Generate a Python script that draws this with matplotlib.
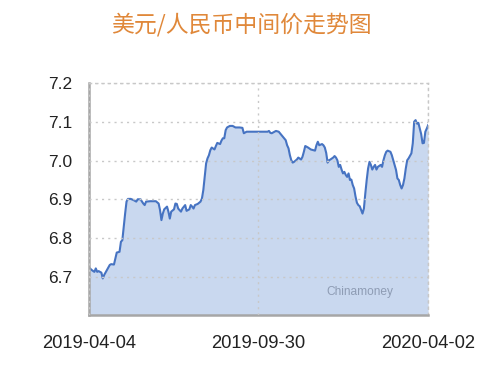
import numpy as np
import matplotlib
matplotlib.use("Agg")
import matplotlib.pyplot as plt

plt.rcParams['font.family'] = ['Liberation Sans', 'DejaVu Sans']

title = "美元/人民币中间价走势图"
tick_dates = ["2019-04-04", "2019-09-30", "2020-04-02"]
yticks = [6.7, 6.8, 6.9, 7.0, 7.1, 7.2]

# trading-day index and USD/CNY central parity
day = [0, 2, 4, 5, 6, 7, 9, 10, 11, 13, 15, 16, 18, 19, 20, 22, 23, 24, 25, 26,
       27, 28, 30, 32, 34, 35, 37, 39, 40, 41, 44, 46, 48, 50, 51, 52, 53, 54,
       56, 57, 58, 59, 61, 62, 63, 64, 66, 67, 69, 70, 72, 73, 74, 75, 76, 78,
       80, 81, 82, 83, 84, 85, 86, 87, 88, 90, 91, 92, 94, 95, 96, 97, 98, 99,
       101, 103, 105, 108, 110, 111, 113, 117, 122, 128, 129, 130, 131, 133,
       134, 136, 139, 141, 142, 143, 144, 145, 146, 147, 149, 150, 152, 153,
       154, 155, 157, 159, 161, 162, 163, 164, 165, 167, 168, 169, 170, 171,
       172, 173, 175, 176, 177, 178, 179, 180, 181, 182, 183, 184, 185, 186,
       187, 188, 189, 190, 191, 192, 193, 194, 196, 197, 198, 199, 200, 201,
       202, 203, 204, 205, 206, 207, 209, 210, 211, 212, 213, 214, 216, 217,
       218, 219, 220, 221, 222, 223, 224, 225, 226, 227, 228, 229, 231, 232,
       233, 234, 235, 236, 237, 238, 239, 240, 241, 242, 243]
rate = [6.724, 6.717, 6.712, 6.721, 6.712, 6.714, 6.710, 6.695, 6.704, 6.717,
        6.730, 6.732, 6.731, 6.747, 6.762, 6.764, 6.790, 6.794, 6.829, 6.863,
        6.894, 6.901, 6.901, 6.898, 6.894, 6.900, 6.900, 6.889, 6.885, 6.894,
        6.895, 6.895, 6.895, 6.889, 6.872, 6.846, 6.863, 6.874, 6.881, 6.868,
        6.850, 6.868, 6.874, 6.889, 6.888, 6.876, 6.868, 6.876, 6.885, 6.870,
        6.874, 6.885, 6.881, 6.876, 6.885, 6.888, 6.894, 6.902, 6.924, 6.958,
        6.993, 7.006, 7.014, 7.027, 7.034, 7.029, 7.038, 7.046, 7.043, 7.052,
        7.058, 7.058, 7.079, 7.086, 7.090, 7.090, 7.086, 7.086, 7.085, 7.071,
        7.075, 7.075, 7.075, 7.075, 7.077, 7.072, 7.071, 7.075, 7.077, 7.075,
        7.062, 7.053, 7.040, 7.032, 7.014, 7.001, 6.995, 6.997, 7.003, 7.008,
        7.003, 7.010, 7.023, 7.038, 7.034, 7.029, 7.027, 7.026, 7.040, 7.049,
        7.040, 7.043, 7.040, 7.034, 7.020, 6.995, 7.001, 7.003, 7.008, 7.012,
        7.008, 7.001, 6.984, 6.989, 6.977, 6.967, 6.971, 6.963, 6.958, 6.967,
        6.950, 6.951, 6.937, 6.928, 6.907, 6.891, 6.885, 6.882, 6.863, 6.876,
        6.915, 6.950, 6.980, 6.997, 6.989, 6.977, 6.984, 6.989, 6.977, 6.984,
        6.989, 6.984, 7.001, 7.014, 7.023, 7.026, 7.023, 7.014, 7.001, 6.989,
        6.976, 6.954, 6.950, 6.937, 6.928, 6.937, 6.954, 6.980, 7.001, 7.006,
        7.019, 7.045, 7.101, 7.105, 7.096, 7.098, 7.083, 7.069, 7.045, 7.046,
        7.075, 7.083, 7.092]

line_col = "#4673C2"
fill_col = "#C9D8EF"
grid_col = "#C8C8C8"

fig = plt.figure(figsize=(4.99, 3.66), dpi=100)
ax = fig.add_axes([0.178, 0.139, 0.680, 0.633])

ax.fill_between(day, rate, 6.6, color=fill_col, lw=0)
ax.plot(day, rate, color=line_col, lw=1.5)

ax.set_xlim(day[0], day[-1])
ax.set_ylim(6.6, 7.2)
ax.set_yticks(yticks)
ax.set_yticklabels(["%.1f" % v for v in yticks])
ax.set_xticks(np.linspace(day[0], day[-1], 3))
ax.set_xticklabels(tick_dates)
ax.tick_params(axis="y", length=0, pad=12, labelsize=12.5, labelcolor="#222222")
ax.tick_params(axis="x", length=0, pad=14, labelsize=13.2, labelcolor="#222222")

ax.grid(True, color=grid_col, ls=(0, (1.5, 3)), lw=1.0)
ax.set_axisbelow(False)
for s in ["top", "right"]:
    ax.spines[s].set_color(grid_col)
    ax.spines[s].set_linestyle((0, (1.5, 3)))
    ax.spines[s].set_linewidth(1.0)
for s in ["left", "bottom"]:
    ax.spines[s].set_color("#A6A6A6")
    ax.spines[s].set_linewidth(1.8)

ax.text(0.80, 0.10, "Chinamoney", transform=ax.transAxes, ha="center",
        va="center", fontsize=8.6, color="#8E9CB4")

fig.text(0.483, 0.932, title, ha="center", va="center", fontsize=16.5,
         color="#E0883A", fontweight="light",
         family=["Noto Sans CJK SC", "DejaVu Sans"])

fig.savefig("out.png", dpi=100)
